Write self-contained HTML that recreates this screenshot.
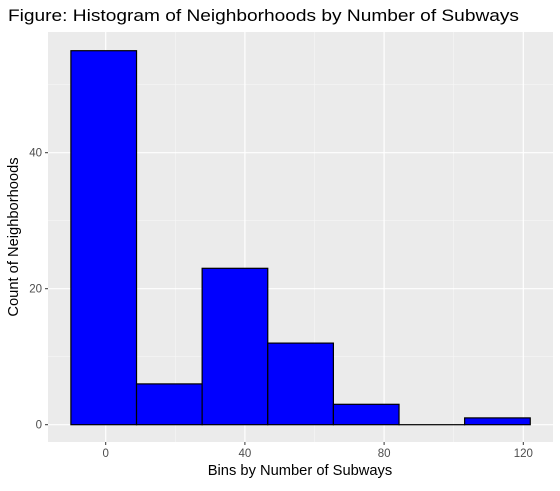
<!DOCTYPE html>
<html><head><meta charset="utf-8"><style>
body{margin:0;background:#fff;font-family:"Liberation Sans",Arial,sans-serif}
</style></head><body>
<svg id="c" width="560" height="486" xmlns="http://www.w3.org/2000/svg">
<text x="8" y="21" font-size="17" textLength="511" lengthAdjust="spacingAndGlyphs" fill="#000">Figure: Histogram of Neighborhoods by Number of Subways</text>
<rect x="48" y="32" width="505" height="410" fill="#ebebeb"/>
<g id="grid"></g><g id="bars"></g><g id="axes"></g>
<text x="300" y="475" font-size="14.7" text-anchor="middle" fill="#000">Bins by Number of Subways</text>
<text transform="translate(18,237) rotate(-90)" font-size="14.7" text-anchor="middle" fill="#000">Count of Neighborhoods</text>
</svg>
<script>
const binCenters=[-0.57,18.29,37.14,56.0,74.86,93.71,112.57];
const counts=[55,6,23,12,3,0,1];
const binWidth=18.86;
const xTicks=[0,40,80,120];
const yTicks=[0,20,40];
const X=v=>105.7+v*3.48;
const Y=v=>424.7-v*6.8;
const ns="http://www.w3.org/2000/svg";
function mk(t,a,p){const e=document.createElementNS(ns,t);for(const k in a)e.setAttribute(k,a[k]);p.appendChild(e);return e;}
const g=document.getElementById('grid');
[20,60,100].forEach(v=>{const l=mk('line',{x1:X(v),x2:X(v),y1:32,y2:442,stroke:'#f7f7f7','stroke-width':0.6},g);

});
[10,30,50].forEach(v=>{const l=mk('line',{x1:48,x2:553,y1:Y(v),y2:Y(v),stroke:'#f7f7f7','stroke-width':0.6},g);

});
xTicks.forEach(v=>{const l=mk('line',{x1:X(v),x2:X(v),y1:32,y2:442,stroke:'#fff','stroke-width':1.2},g);

});
yTicks.forEach(v=>{const l=mk('line',{x1:48,x2:553,y1:Y(v),y2:Y(v),stroke:'#fff','stroke-width':1.2},g);

});
const b=document.getElementById('bars');
binCenters.forEach((c,i)=>{const x0=X(c-binWidth/2),x1=X(c+binWidth/2);
const r=mk('rect',{x:x0,y:Y(counts[i]),width:x1-x0,height:Math.max(Y(0)-Y(counts[i]),0.01),fill:'#0000ff',stroke:'#000','stroke-width':1.2},b);

});
const a=document.getElementById('axes');
xTicks.forEach(v=>{mk('line',{x1:X(v),x2:X(v),y1:442,y2:445,stroke:'#333'},a);
const t=mk('text',{x:X(v),y:457,'font-size':11.5,'text-anchor':'middle',fill:'#4d4d4d'},a);t.textContent=v;

});
yTicks.forEach(v=>{mk('line',{x1:45,x2:48,y1:Y(v),y2:Y(v),stroke:'#333'},a);
const t=mk('text',{x:42,y:Y(v)+4,'font-size':11.5,'text-anchor':'end',fill:'#4d4d4d'},a);t.textContent=v;

});
</script>
</body></html>
